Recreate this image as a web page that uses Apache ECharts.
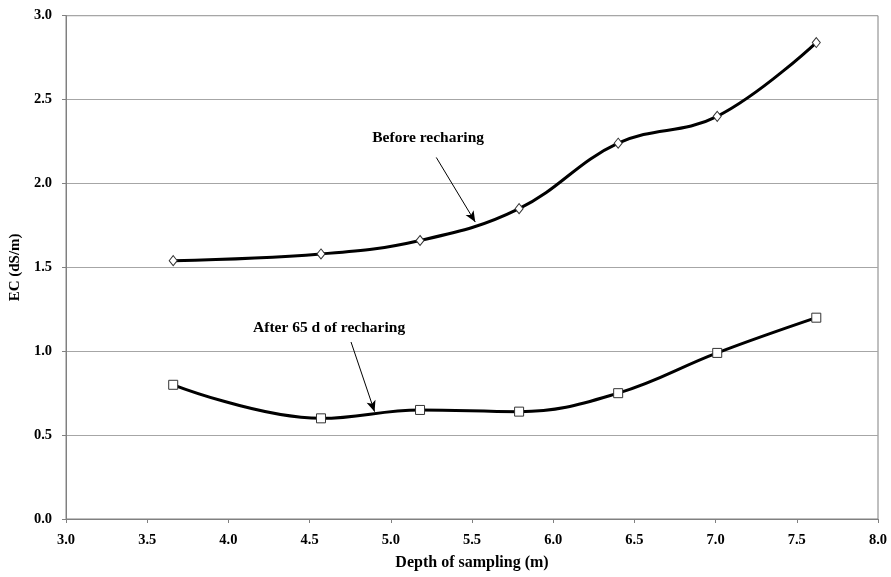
<!DOCTYPE html>
<html>
<head>
<meta charset="utf-8">
<script src="https://cdn.jsdelivr.net/npm/echarts@6/dist/echarts.min.js"></script>
<style>
html,body{margin:0;padding:0;background:#fff;}
#chart{width:891px;height:577px;}
</style>
</head>
<body>
<div id="chart"></div>
<script>
const depths = [3.66, 4.57, 5.18, 5.79, 6.40, 7.01, 7.62];
const ecBefore = [1.54, 1.58, 1.66, 1.85, 2.24, 2.40, 2.84];
const ecAfter = [0.80, 0.60, 0.65, 0.64, 0.75, 0.99, 1.20];
const beforeLabel = 'Before recharing';
const afterLabel = 'After 65 d of recharing';
// annotation anchors in data units: [x, y]
const beforeTextAt = [5.23, 2.27];
const beforeArrow = [[5.28, 2.155], [5.52, 1.77]];
const afterTextAt = [4.62, 1.14];
const afterArrow = [[4.755, 1.055], [4.90, 0.64]];

const FONT = 'Liberation Serif';
const chart = echarts.init(document.getElementById('chart'), null, {renderer: 'canvas'});

function annot(textAt, text, arrow) {
  return {
    markPoint: {
      silent: true,
      symbol: 'circle',
      symbolSize: 0,
      data: [{coord: textAt, label: {show: true, formatter: text, position: 'inside',
        color: '#000', fontFamily: FONT, fontWeight: 'bold', fontSize: 15.5}}]
    },
    markLine: {
      silent: true,
      symbol: ['none', 'arrow'],
      symbolSize: [7, 11],
      label: {show: false},
      lineStyle: {color: '#000', width: 1, type: 'solid'},
      data: [[{coord: arrow[0]}, {coord: arrow[1]}]]
    }
  };
}

const option = {
  animation: false,
  backgroundColor: '#fff',
  grid: {left: 64.5, right: 13, top: 15.7, bottom: 58, show: true, borderColor: '#808080', borderWidth: 1},
  xAxis: {
    type: 'value', min: 3, max: 8, interval: 0.5,
    name: 'Depth of sampling (m)', nameLocation: 'middle', nameGap: 36,
    nameTextStyle: {color: '#000', fontFamily: FONT, fontWeight: 'bold', fontSize: 16},
    axisLine: {show: true, lineStyle: {color: '#808080', width: 1}},
    axisTick: {show: true, inside: false, length: 4, lineStyle: {color: '#808080'}},
    axisLabel: {color: '#000', fontFamily: FONT, fontWeight: 'bold', fontSize: 14.5, margin: 14,
      formatter: v => v.toFixed(1)},
    splitLine: {show: false}
  },
  yAxis: {
    type: 'value', min: 0, max: 3, interval: 0.5,
    name: 'EC (dS/m)', nameLocation: 'middle', nameGap: 40,
    nameTextStyle: {color: '#000', fontFamily: FONT, fontWeight: 'bold', fontSize: 15},
    axisLine: {show: true, lineStyle: {color: '#808080', width: 1}},
    axisTick: {show: true, inside: false, length: 4, lineStyle: {color: '#808080'}},
    axisLabel: {color: '#000', fontFamily: FONT, fontWeight: 'bold', fontSize: 14.5, margin: 14,
      formatter: v => v.toFixed(1)},
    splitLine: {show: true, lineStyle: {color: '#a6a6a6', width: 1}}
  },
  series: [
    Object.assign({
      name: beforeLabel, type: 'line', smooth: 0.4,
      data: depths.map((d, i) => [d, ecBefore[i]]),
      symbol: 'diamond', symbolSize: [8, 10], showSymbol: true,
      lineStyle: {color: '#000', width: 3},
      itemStyle: {color: '#fff', borderColor: '#333', borderWidth: 1}
    }, annot(beforeTextAt, beforeLabel, beforeArrow)),
    Object.assign({
      name: afterLabel, type: 'line', smooth: 0.4,
      data: depths.map((d, i) => [d, ecAfter[i]]),
      symbol: 'rect', symbolSize: 9, showSymbol: true,
      lineStyle: {color: '#000', width: 3},
      itemStyle: {color: '#fff', borderColor: '#333', borderWidth: 1}
    }, annot(afterTextAt, afterLabel, afterArrow))
  ]
};
chart.setOption(option);
</script>
</body>
</html>
